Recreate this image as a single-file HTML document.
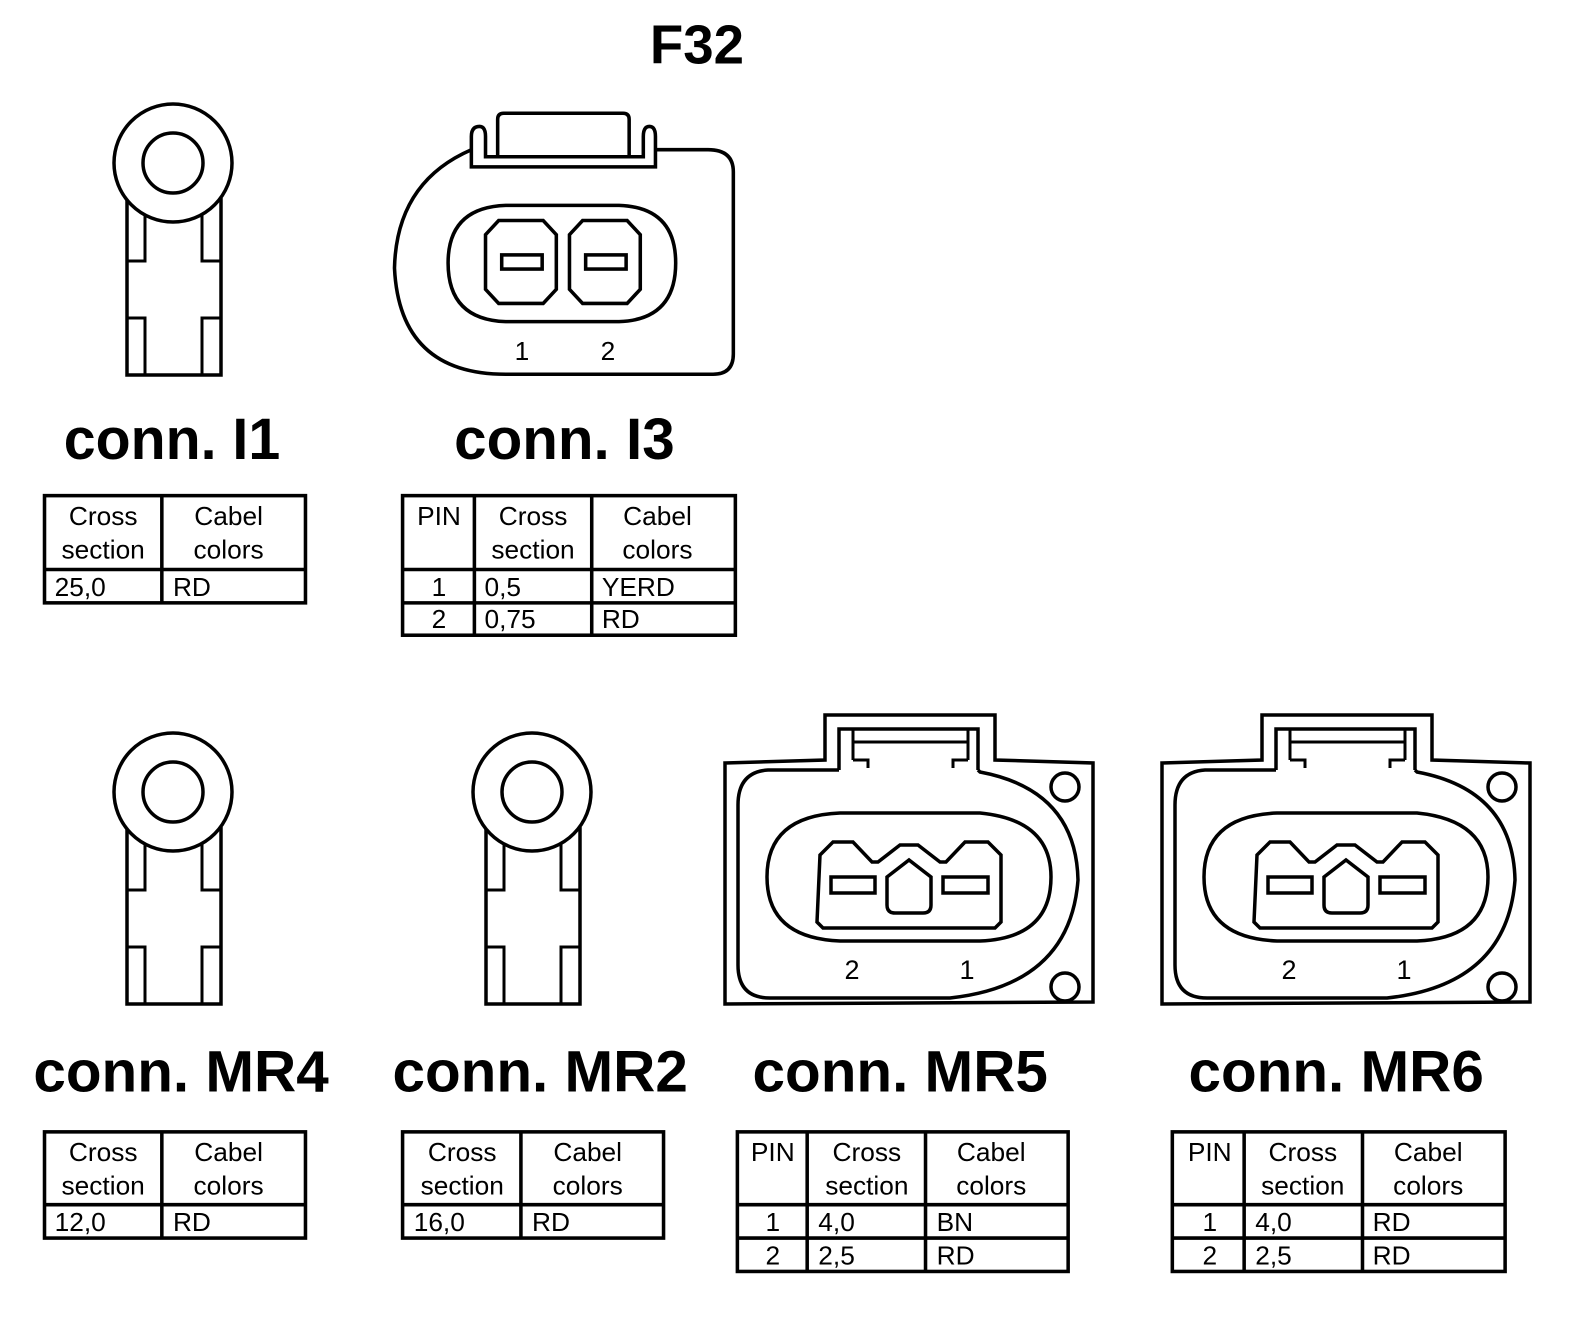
<!DOCTYPE html>
<html><head><meta charset="utf-8"><style>html,body{margin:0;padding:0;background:#fff}svg{display:block}</style></head><body>
<svg width="1584" height="1340" viewBox="0 0 1584 1340" xmlns="http://www.w3.org/2000/svg" font-family="Liberation Sans, Arial, sans-serif">
<defs>
<g id="ring" fill="none" stroke="#000" stroke-width="3.5">
  <path d="M127,198 V375 H221 V198" fill="#fff"/>
  <path d="M145,205 V261 H127 M202,205 V261 H221 M145,375 V318 H127 M202,375 V318 H221" stroke-width="3"/>
  <circle cx="173" cy="163" r="59" fill="#fff"/>
  <circle cx="173" cy="163" r="30"/>
</g>
<g id="mr" fill="none" stroke="#000" stroke-width="3.5">
  <path d="M725,763 L825,760 V715 H995 V760 L1093,763 V1002 L725,1004 Z"/>
  <path d="M839,770 V729 H978 V770"/>
  <path d="M853,760 V729 M968,760 V729 M853,742 H968 M853,760 H868 V768 M968,760 H953 V768" stroke-width="3"/>
  <path d="M839,770 H768 Q738,772 738,805 V965 Q738,998 770,998 H950 Q1070,985 1078,880 Q1076,790 980,772 L978,770"/>
  <circle cx="1065" cy="787" r="14"/>
  <circle cx="1065" cy="987" r="14"/>
  <path d="M840,813 H980 Q1051,820 1051,877 Q1051,938 980,941 H840 Q767,938 767,877 Q767,816 840,813 Z"/>
  <path d="M820,855 L833,842 H853 L872,862 H878 L900,845 H918 L940,862 H946 L965,842 H988 L1001,855 V922 L995,928 H823 L817,922 Z"/>
  <rect x="831" y="877" width="44" height="16"/>
  <rect x="943" y="877" width="45" height="16"/>
  <path d="M887,877 L909,860 L931,877 V905 Q931,913 923,913 H895 Q887,913 887,905 Z"/>
</g>
</defs>

<use href="#ring"/>
<use href="#ring" transform="translate(0,629)"/>
<use href="#ring" transform="translate(359,629)"/>
<use href="#mr"/>
<g font-size="27">
<text x="852" y="979" text-anchor="middle">2</text>
<text x="967" y="979" text-anchor="middle">1</text>
</g>
<use href="#mr" transform="translate(437,0)"/>
<g font-size="27">
<text x="1289" y="979" text-anchor="middle">2</text>
<text x="1404" y="979" text-anchor="middle">1</text>
</g>

<g transform="scale(1.0115)">
<text x="689" y="63" text-anchor="middle" font-weight="bold" font-size="54">F32</text>

<g fill="none" stroke="#000" stroke-width="3.5">
  <path d="M466,148 Q392,180 390,265 Q395,370 500,370 H705 Q725,370 725,350 V170 Q725,148 700,148 H648"/>
  <path d="M466,165 V135 Q466,125 474,125 Q480,125 480,135 V155 H636 V135 Q636,125 642,125 Q648,125 648,135 V165 Z"/>
  <path d="M492,155 V118 Q492,112 498,112 H616 Q622,112 622,118 V155"/>
  <path d="M500,203 H612 Q668,205 668,260 Q668,316 612,318 H500 Q443,316 443,260 Q443,205 500,203 Z"/>
  <path d="M493,218 H537 L550,232 V286 L537,300 H493 L480,286 V232 Z"/>
  <path d="M576,218 H620 L633,232 V286 L620,300 H576 L563,286 V232 Z"/>
  <rect x="496" y="252" width="40" height="14"/>
  <rect x="579" y="252" width="40" height="14"/>
</g>
<g font-size="26">
<text x="516" y="356" text-anchor="middle">1</text>
<text x="601" y="356" text-anchor="middle">2</text>
</g>

<g font-weight="bold" font-size="58" text-anchor="middle">
<text x="170" y="454" textLength="214" lengthAdjust="spacingAndGlyphs">conn. I1</text>
<text x="558" y="454" textLength="218" lengthAdjust="spacingAndGlyphs">conn. I3</text>
<text x="179" y="1079" textLength="292" lengthAdjust="spacingAndGlyphs">conn. MR4</text>
<text x="534" y="1079" textLength="292" lengthAdjust="spacingAndGlyphs">conn. MR2</text>
<text x="890" y="1079" textLength="292" lengthAdjust="spacingAndGlyphs">conn. MR5</text>
<text x="1321" y="1079" textLength="292" lengthAdjust="spacingAndGlyphs">conn. MR6</text>
</g>

<g fill="none" stroke="#000" stroke-width="3.5">
  <rect x="44" y="490" width="258" height="106"/><path d="M160,490 V596 M44,563 H302"/>
  <rect x="398" y="490" width="329" height="138"/><path d="M469,490 V628 M585,490 V628 M398,563 H727 M398,596 H727"/>
  <rect x="44" y="1119" width="258" height="105"/><path d="M160,1119 V1224 M44,1191 H302"/>
  <rect x="398" y="1119" width="258" height="105"/><path d="M515,1119 V1224 M398,1191 H656"/>
  <rect x="729" y="1119" width="327" height="138"/><path d="M798,1119 V1257 M915,1119 V1257 M729,1191 H1056 M729,1224 H1056"/>
  <rect x="1159" y="1119" width="329" height="138"/><path d="M1230,1119 V1257 M1347,1119 V1257 M1159,1191 H1488 M1159,1224 H1488"/>
</g>
<g font-size="26">
  <g text-anchor="middle">
    <text x="102" y="519">Cross</text><text x="102" y="552">section</text>
    <text x="226" y="519">Cabel</text><text x="226" y="552">colors</text>
    <text x="434" y="519">PIN</text>
    <text x="527" y="519">Cross</text><text x="527" y="552">section</text>
    <text x="650" y="519">Cabel</text><text x="650" y="552">colors</text>
    <text x="434" y="589">1</text><text x="434" y="621">2</text>
    <text x="102" y="1148">Cross</text><text x="102" y="1181">section</text>
    <text x="226" y="1148">Cabel</text><text x="226" y="1181">colors</text>
    <text x="457" y="1148">Cross</text><text x="457" y="1181">section</text>
    <text x="581" y="1148">Cabel</text><text x="581" y="1181">colors</text>
    <text x="764" y="1148">PIN</text>
    <text x="857" y="1148">Cross</text><text x="857" y="1181">section</text>
    <text x="980" y="1148">Cabel</text><text x="980" y="1181">colors</text>
    <text x="764" y="1217">1</text><text x="764" y="1250">2</text>
    <text x="1196" y="1148">PIN</text>
    <text x="1288" y="1148">Cross</text><text x="1288" y="1181">section</text>
    <text x="1412" y="1148">Cabel</text><text x="1412" y="1181">colors</text>
    <text x="1196" y="1217">1</text><text x="1196" y="1250">2</text>
  </g>
  <text x="54" y="589">25,0</text><text x="171" y="589">RD</text>
  <text x="479" y="589">0,5</text><text x="595" y="589">YERD</text>
  <text x="479" y="621">0,75</text><text x="595" y="621">RD</text>
  <text x="54" y="1217">12,0</text><text x="171" y="1217">RD</text>
  <text x="409" y="1217">16,0</text><text x="526" y="1217">RD</text>
  <text x="809" y="1217">4,0</text><text x="926" y="1217">BN</text>
  <text x="809" y="1250">2,5</text><text x="926" y="1250">RD</text>
  <text x="1241" y="1217">4,0</text><text x="1357" y="1217">RD</text>
  <text x="1241" y="1250">2,5</text><text x="1357" y="1250">RD</text>
</g>
</g>
</svg>
</body></html>
